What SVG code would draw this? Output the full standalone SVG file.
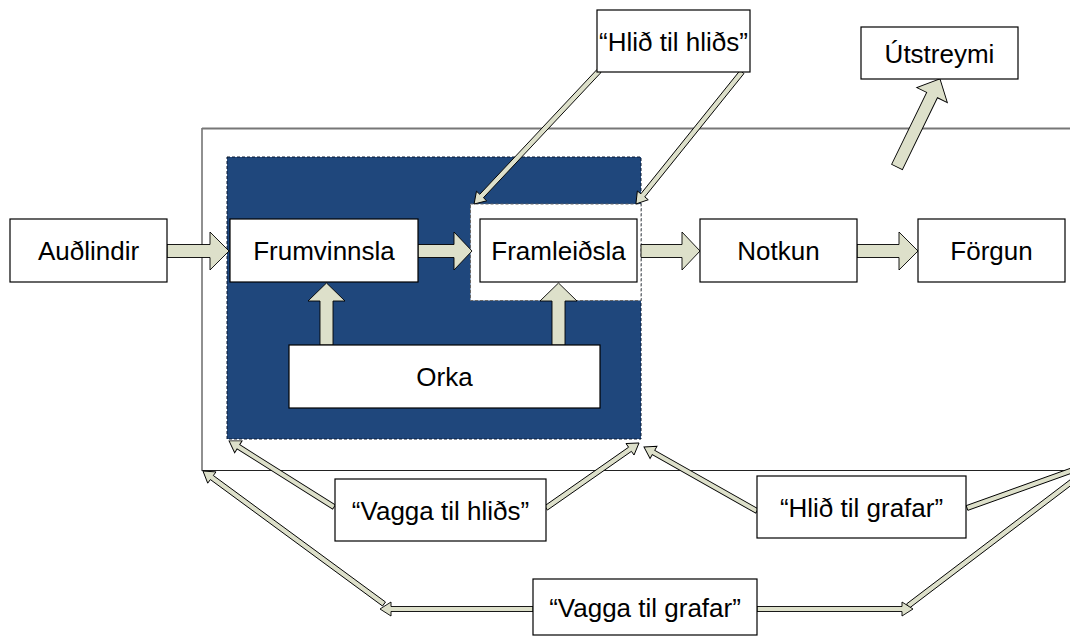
<svg xmlns="http://www.w3.org/2000/svg" width="1070" height="639" viewBox="0 0 1070 639">
<style>
.box{fill:#fff;stroke:#000;stroke-width:1.2}
.t{font-family:"Liberation Sans",Arial,sans-serif;font-size:26px;fill:#000;text-anchor:middle}
.ar{fill:#dde0ca;stroke:#000;stroke-width:0.9;stroke-linejoin:miter}
</style>
<rect width="1070" height="639" fill="#fff"/>
<g id="frame">
<rect x="202" y="128.5" width="900" height="342" fill="none" stroke="#222" stroke-width="1"/>
<line x1="202" y1="128.5" x2="1070" y2="128.5" stroke="#777" stroke-width="2"/>
</g>
<g id="core">
<rect x="227" y="157" width="414" height="282" fill="#1f477c" stroke="#0b1b33" stroke-width="1" stroke-dasharray="3,2"/>
<rect x="470.5" y="204" width="170.5" height="96.5" fill="#fff" stroke="#666" stroke-width="1" stroke-dasharray="3,2"/>
</g>
<g id="connectors">
<polygon class="ar" points="167,244.5 210,244.5 210,232 229,251 210,270 210,257.5 167,257.5"/>
<polygon class="ar" points="418,244.5 454,244.5 454,232 472,251 454,270 454,257.5 418,257.5"/>
<polygon class="ar" points="641,244.5 682,244.5 682,232 700,251 682,270 682,257.5 641,257.5"/>
<polygon class="ar" points="857,244.5 899,244.5 899,232 918,251 899,270 899,257.5 857,257.5"/>
<polygon class="ar" points="320,345 320,301 308,301 326.5,283 345,301 333,301 333,345"/>
<polygon class="ar" points="552,345 552,301 540,301 558.5,283 577,301 565,301 565,345"/>
<polygon class="ar" points="0,-6 80,-6 80,-17 98,0 80,17 80,6 0,6" transform="translate(897,167) rotate(-64)"/>
<polygon class="ar" points="0,-2.5 171.5,-2.5 171.5,-7 182.5,0 171.5,7 171.5,2.5 0,2.5" transform="translate(599,71) rotate(133.2)"/>
<polygon class="ar" points="0,-2.5 158.3,-2.5 158.3,-7 169.3,0 158.3,7 158.3,2.5 0,2.5" transform="translate(742,72) rotate(128.8)"/>
<polygon class="ar" points="0,-2.5 113,-2.5 113,-7 124,0 113,7 113,2.5 0,2.5" transform="translate(334,507) rotate(-147.8)"/>
<polygon class="ar" points="0,-2.5 102.5,-2.5 102.5,-7 113.5,0 102.5,7 102.5,2.5 0,2.5" transform="translate(546,508) rotate(-34.95)"/>
<polygon class="ar" points="0,-2.5 118.9,-2.5 118.9,-7 129.9,0 118.9,7 118.9,2.5 0,2.5" transform="translate(757,511) rotate(-150.5)"/>
<polygon class="ar" points="0,-2.5 119.6,-2.5 119.6,-7 130.6,0 119.6,7 119.6,2.5 0,2.5" transform="translate(967,508) rotate(-19.7)"/>
<polygon class="ar" points="0,-2.5 142,-2.5 142,-7 153,0 142,7 142,2.5 0,2.5" transform="translate(533,609) rotate(180)"/>
<polygon class="ar" points="0,-2.5 213.6,-2.5 213.6,-7 224.6,0 213.6,7 213.6,2.5 0,2.5" transform="translate(384,604) rotate(-143.7)"/>
<polygon class="ar" points="0,-2.5 217.4,-2.5 217.4,-7 228.4,0 217.4,7 217.4,2.5 0,2.5" transform="translate(908,606) rotate(-37.2)"/>
<polygon class="ar" points="0,-2.5 145,-2.5 145,-7 156,0 145,7 145,2.5 0,2.5" transform="translate(757,609) rotate(0)"/>
</g>
<g id="n-audlindir"><rect class="box" x="10" y="219" width="157" height="63"/><text class="t" x="88.5" y="259.5">Auðlindir</text></g>
<g id="n-frumvinnsla"><rect class="box" x="230" y="219" width="188" height="63"/><text class="t" x="324" y="259.5">Frumvinnsla</text></g>
<g id="n-framleidsla"><rect class="box" x="480" y="219" width="157" height="63"/><text class="t" x="558.5" y="259.5">Framleiðsla</text></g>
<g id="n-notkun"><rect class="box" x="700" y="219" width="157" height="63"/><text class="t" x="778.5" y="259.5">Notkun</text></g>
<g id="n-forgun"><rect class="box" x="918" y="219" width="147" height="63"/><text class="t" x="991.5" y="259.5">Förgun</text></g>
<g id="n-orka"><rect class="box" x="289" y="345" width="311" height="63"/><text class="t" x="444.5" y="385.5">Orka</text></g>
<g id="n-hlid-til-hlids"><rect class="box" x="597" y="10" width="153" height="62"/><text class="t" x="673.5" y="50.5">“Hlið til hliðs”</text></g>
<g id="n-utstreymi"><rect class="box" x="861" y="27" width="157" height="52"/><text class="t" x="939.5" y="62.5">Útstreymi</text></g>
<g id="n-vagga-til-hlids"><rect class="box" x="335" y="479" width="211" height="62"/><text class="t" x="440.5" y="519.5">“Vagga til hliðs”</text></g>
<g id="n-hlid-til-grafar"><rect class="box" x="757" y="476" width="209" height="62"/><text class="t" x="861.5" y="516.5">“Hlið til grafar”</text></g>
<g id="n-vagga-til-grafar"><rect class="box" x="533" y="579" width="224" height="56"/><text class="t" x="645" y="616.5">“Vagga til grafar”</text></g>
</svg>
